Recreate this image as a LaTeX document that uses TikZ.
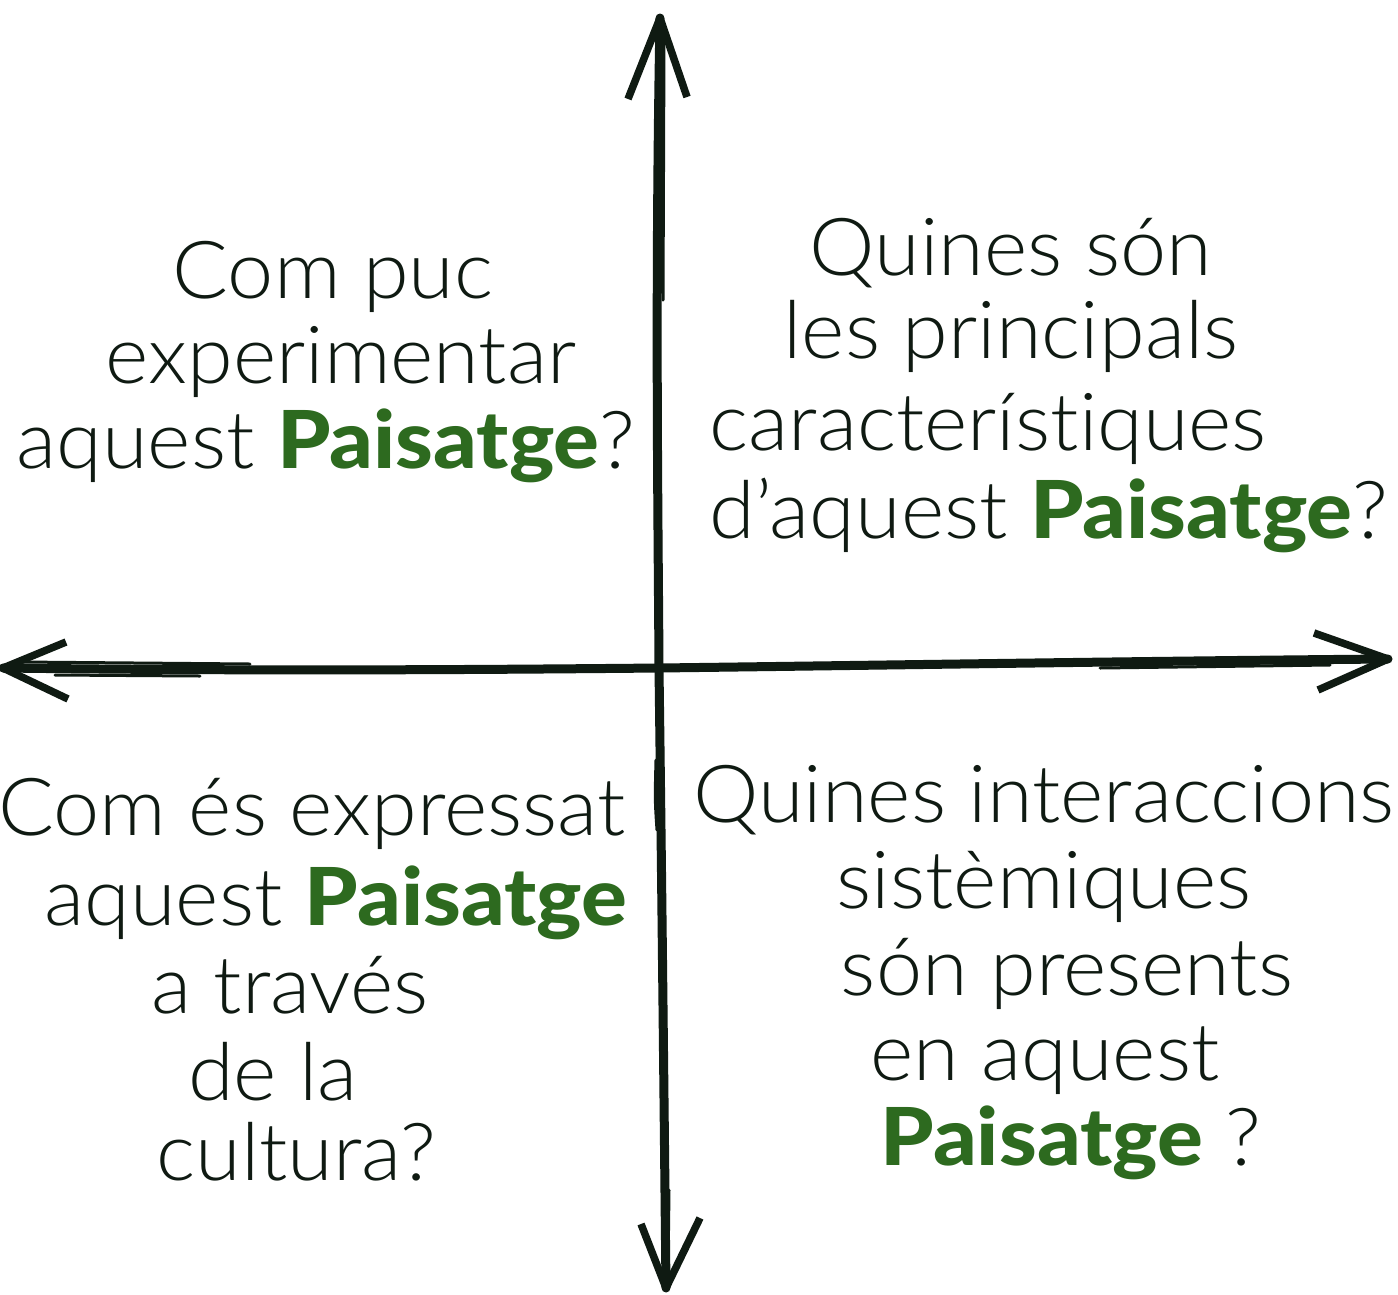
\documentclass[tikz,border=0pt]{standalone}
\usepackage{fontspec}
\setmainfont{Lato}[UprightFont={Lato Light}, BoldFont={Lato Heavy}, Ligatures=NoCommon,
  UprightFeatures={FakeStretch=1.035}, BoldFeatures={FakeStretch=1.07}]
\definecolor{ink}{HTML}{0F1A12}
\definecolor{leaf}{HTML}{2D6A1F}
\tikzset{
  txt/.style={anchor=base, inner sep=0pt, text=ink, font=\fontsize{80}{85}\selectfont},
  axis/.style={draw=ink, line width=9pt, line cap=round},
  thin/.style={draw=ink, line width=3pt, line cap=round},
  barb/.style={draw=ink, line width=7.5pt, line cap=butt},
}
\newcommand{\pg}{\textcolor{leaf}{\bfseries Paisatge}}
\begin{document}
\begin{tikzpicture}[x=1pt,y=-1pt]
\useasboundingbox (0,0) rectangle (1398,1294);
\fill[white] (0,0) rectangle (1398,1294);
% axis end points
\coordinate (top) at (660,18);
\coordinate (bot) at (666,1288);
\coordinate (lft) at (3,668);
\coordinate (rgt) at (1388,659);
\coordinate (ctr) at (659,668);
% vertical axis
\draw[axis] (top) .. controls (655,300) and (658,500) .. (ctr) .. controls (662,900) and (664,1100) .. (bot);
\draw[thin] (664,40) -- (663,300);
\draw[thin] (656,760) .. controls (655,800) .. (657,830);
\draw[thin] (669,1190) -- (668,1270);
% horizontal axis
\draw[axis] (lft) .. controls (250,671) and (450,670) .. (ctr) .. controls (900,665) and (1150,661) .. (rgt);
\draw[thin] (20,662) -- (250,664);
\draw[thin] (55,675) -- (200,676);
\draw[thin] (1100,668) -- (1330,665);
% arrowheads
\draw[barb] (top) -- (628,99);
\draw[barb] (top) -- (687,97);
\draw[barb] (lft) -- (66,642);
\draw[barb] (lft) -- (68,699);
\draw[barb] (rgt) -- (1314,633);
\draw[barb] (rgt) -- (1318,690);
\draw[barb] (bot) -- (641,1224);
\draw[barb] (bot) -- (700,1218);
% top-left
\node[txt] (a1) at (333,298) {Com puc};
\node[txt] (a2) at (341,383) {experimentar};
\node[txt] (a3) at (326,468) {aquest \pg?};
% top-right
\node[txt] (b1) at (1011,275) {Quines són};
\node[txt] (b2) at (1011,358) {les principals};
\node[txt] (b3) at (988,450) {característiques};
\node[txt] (b4) at (1049,538) {d’aquest \pg?};
% bottom-left
\node[txt] (c1) at (312,835) {Com és expressat};
\node[txt] (c2) at (336,925) {aquest \pg};
\node[txt] (c3) at (290,1013) {a través};
\node[txt] (c4) at (273,1100) {de la};
\node[txt] (c5) at (296,1180) {cultura?};
% bottom-right
\node[txt] (d1) at (1044,822) {Quines interaccions};
\node[txt] (d2) at (1044,908) {sistèmiques};
\node[txt] (d3) at (1067,995) {són presents};
\node[txt] (d4) at (1045,1080) {en aquest};
\node[txt] (d5) at (1071,1165) {\pg\ ?};
\end{tikzpicture}
\end{document}
